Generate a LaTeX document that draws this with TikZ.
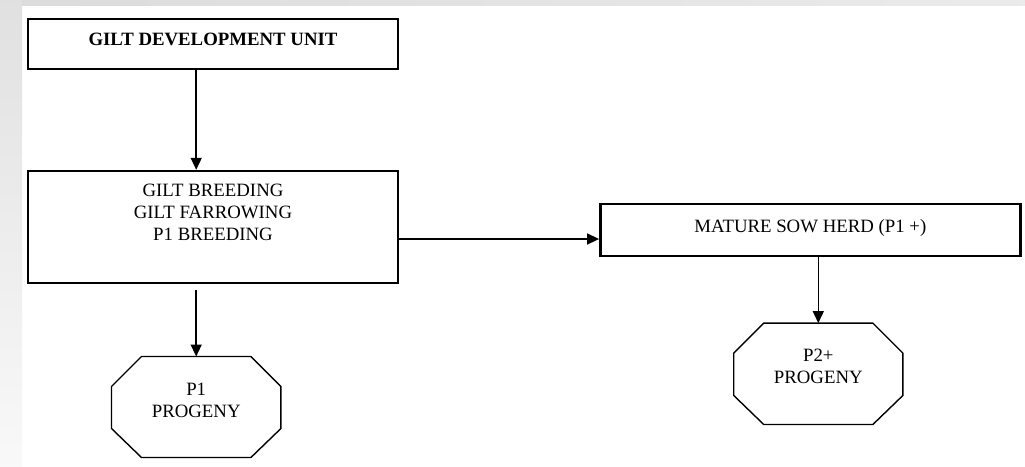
\documentclass[tikz,border=0pt]{standalone}
\usepackage{fontspec}
\setmainfont{Liberation Serif}
\usetikzlibrary{arrows.meta}
\begin{document}
\begin{tikzpicture}[x=1pt,y=-1pt,
  box/.style={draw, line width=2.4pt, inner sep=0pt, rectangle},
  octo/.style={rectangle, inner sep=0pt},
  octline/.style={line width=1.4pt, line join=miter},
  txt/.style={font=\fontsize{18.8}{21.7}\selectfont, align=center, inner sep=0pt, anchor=base},
  arr/.style={line width=1.5pt, -{Triangle[length=12pt,width=11pt]}}]
% background
\useasboundingbox (0,0) rectangle (1025,466);
\fill[white] (0,0) rectangle (1025,466);
\shade[left color=gray!28, right color=gray!16] (0,0) rectangle (1025,5);
\shade[top color=gray!24, bottom color=gray!5] (0,0) rectangle (22,466);
% nodes
\node[box, minimum width=370pt, minimum height=50pt] (b1) at (213,44) {};
\node[txt, font=\fontsize{18.8}{21.7}\selectfont\bfseries] (t1) at (213,45.7) {GILT DEVELOPMENT UNIT};
\node[box, minimum width=370pt, minimum height=112pt] (b2) at (213,227) {};
\node[txt, anchor=north] (t2) at (213,184) {GILT BREEDING\\GILT FARROWING\\P1 BREEDING};
\node[box, minimum width=420pt, minimum height=52pt] (b3) at (810.3,230.2) {};
\node[txt] (t3) at (810.3,232.3) {MATURE SOW HERD (P1 +)};
\node[octo, minimum width=169pt, minimum height=100.6pt] (p1) at (196.2,407) {};
\node[txt, anchor=north] (t4) at (196.2,383) {P1\\PROGENY};
\node[octo, minimum width=168.7pt, minimum height=101pt] (p2) at (818.3,373.8) {};
\node[txt, anchor=north] (t5) at (818.3,349) {P2+\\PROGENY};
% octagon outlines
\foreach \n in {p1,p2}{
  \draw[octline] ([xshift=30pt]\n.north west) -- ([xshift=-30pt]\n.north east)
    -- ([yshift=-30pt]\n.north east) -- ([yshift=29pt]\n.south east)
    -- ([xshift=-30pt]\n.south east) -- ([xshift=30pt]\n.south west)
    -- ([yshift=29pt]\n.south west) -- ([yshift=-30pt]\n.north west) -- cycle;
}
\coordinate (h) at (500,239);
% connectors
\draw[arr] (b1.south -| p1.north) -- (b2.north -| p1.north);
\draw[arr] ([yshift=-6pt]b2.south -| p1.north) -- (p1.north);
\draw[arr] (b2.east |- h) -- (b3.west |- h);
\draw[arr] (b3.south -| p2.north) -- (p2.north);
\end{tikzpicture}
\end{document}
